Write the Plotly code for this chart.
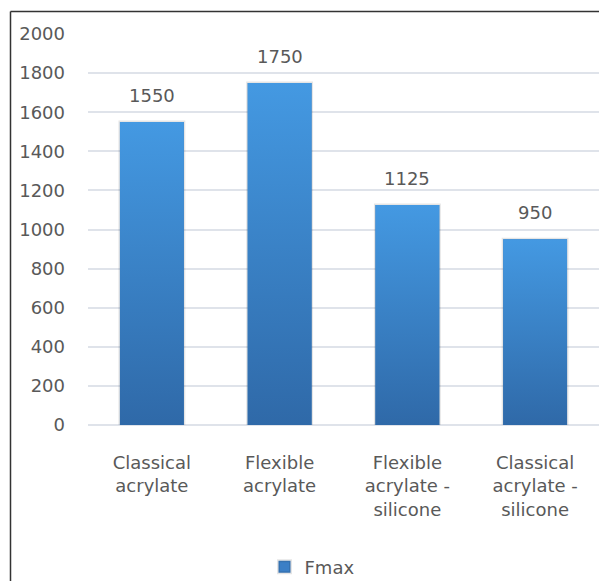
import plotly.graph_objects as go

# Data
categories = ["Classical<br>acrylate", "Flexible<br>acrylate",
              "Flexible<br>acrylate -<br>silicone", "Classical<br>acrylate -<br>silicone"]
fmax = [1550, 1750, 1125, 950]
y_ticks = [0, 200, 400, 600, 800, 1000, 1200, 1400, 1600, 1800, 2000]

TEXT = "#595959"
FONT = "DejaVu Sans"
TOP_BLUE = "#4499e2"
BOTTOM_BLUE = "#2f69a8"
BAR_WIDTH = 0.5

positions = list(range(len(fmax)))

fig = go.Figure()

# Base bars (also provide the legend entry and a faint shadow edge)
fig.add_trace(go.Bar(
    x=positions, y=fmax, width=BAR_WIDTH, name="Fmax",
    marker=dict(color="#3b7fc6", line=dict(color="rgba(0,0,0,0.10)", width=3)),
    hoverinfo="skip",
))

# Vertical gradient fill over each bar
for xi, v in zip(positions, fmax):
    half = BAR_WIDTH / 2
    fig.add_trace(go.Scatter(
        x=[xi - half, xi + half, xi + half, xi - half, xi - half],
        y=[0, 0, v, v, 0],
        mode="lines", fill="toself", line=dict(width=0),
        fillgradient=dict(type="vertical", start=0, stop=v,
                          colorscale=[[0, BOTTOM_BLUE], [1, TOP_BLUE]]),
        showlegend=False, hoverinfo="skip",
    ))

# Value labels above bars
for xi, v in zip(positions, fmax):
    fig.add_annotation(x=xi, y=v, text=str(v), showarrow=False,
                       yanchor="bottom", yshift=14,
                       font=dict(family=FONT, size=18, color=TEXT))

W, H = 599, 581
L, R, T, B = 88, 0, 34, 156
pw, ph = W - L - R, H - T - B

def px_x(px):
    return (px - L) / pw

def px_y(py):
    return (H - B - py) / ph

# Chart frame (top and left edges visible)
fig.add_shape(type="line", xref="paper", yref="paper",
              x0=px_x(10.5), x1=px_x(W + 5), y0=px_y(11.5), y1=px_y(11.5),
              line=dict(color="#333333", width=1.5))
fig.add_shape(type="line", xref="paper", yref="paper",
              x0=px_x(10.5), x1=px_x(10.5), y0=px_y(11.5), y1=px_y(H + 5),
              line=dict(color="#333333", width=1.5))

fig.update_layout(
    width=W, height=H,
    margin=dict(l=L, r=R, t=T, b=B, pad=0, autoexpand=False),
    paper_bgcolor="white", plot_bgcolor="white",
    font=dict(family=FONT, size=18, color=TEXT),
    showlegend=True,
    legend=dict(orientation="h", x=px_x(312), xanchor="center",
                y=px_y(567), yanchor="middle",
                font=dict(family=FONT, size=18, color=TEXT)),
    bargap=0.5,
)
fig.update_xaxes(
    range=[-0.5, len(fmax) - 0.5], tickvals=positions, ticktext=categories,
    showgrid=False, zeroline=False, showline=False, ticks="", automargin=False,
    ticklabelstandoff=25, tickfont=dict(family=FONT, size=18, color=TEXT),
)
fig.update_yaxes(
    range=[0, 2000], tickvals=y_ticks, showgrid=True, automargin=False,
    gridcolor="#dfe3ea", gridwidth=1.5, zeroline=True,
    zerolinecolor="#dfe3ea", zerolinewidth=1.5, showline=False,
    ticklabelstandoff=22, tickfont=dict(family=FONT, size=18, color=TEXT),
)

fig.write_html("out.html")
